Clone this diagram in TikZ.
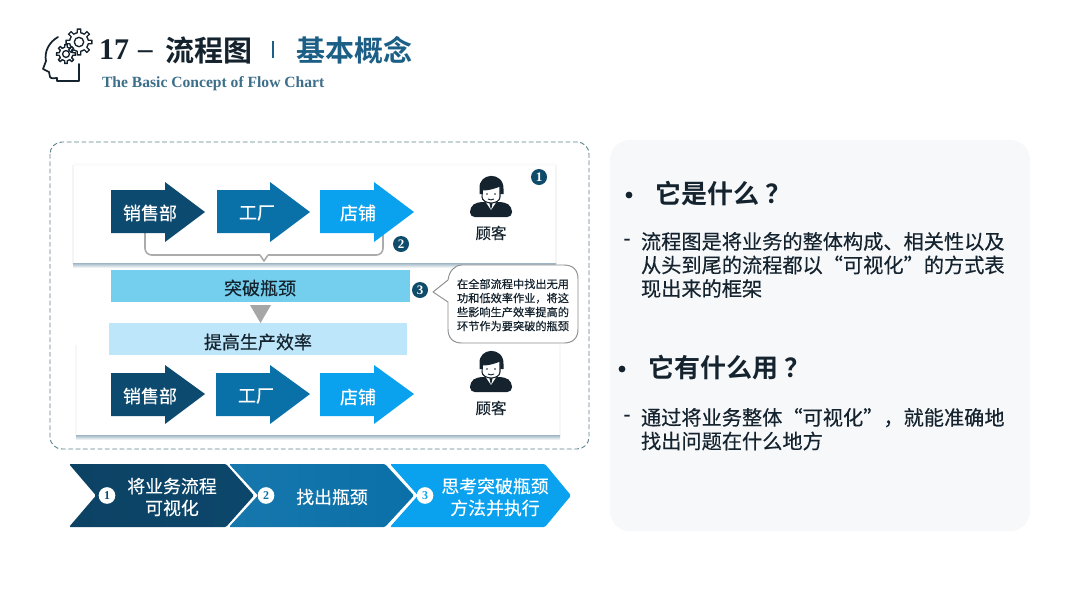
\documentclass[tikz,border=0pt]{standalone}
\usepackage{fontspec}
\setmainfont{Liberation Serif}
\newfontfamily\cjk[FakeBold=0.35]{Noto Sans CJK SC}
\newfontfamily\cjkb[BoldFont={Noto Sans CJK SC Bold}]{Noto Sans CJK SC}
\newfontfamily\lat{Liberation Serif}
\usetikzlibrary{shadings,fadings}
\definecolor{navy}{HTML}{0D4A70}
\definecolor{midb}{HTML}{0A70A8}
\definecolor{skyb}{HTML}{0AA2EE}
\definecolor{ink}{HTML}{14232E}
\definecolor{title}{HTML}{1C5F86}
\definecolor{subt}{HTML}{3D6E8A}
\definecolor{bar1}{HTML}{74CFEE}
\definecolor{bar2}{HTML}{BDE6FA}
\definecolor{badge}{HTML}{0F4C6B}
\definecolor{dashc}{HTML}{5C858C}
\definecolor{panel}{HTML}{F7F8FA}
\newcommand{\px}[1]{\fontsize{\dimexpr#1pt*3/4\relax}{\dimexpr#1pt*23/20\relax}\selectfont}
\tikzset{
  txt/.style={inner sep=0pt,outer sep=0pt,align=center},
  arrowlabel/.style={txt,text=white,font=\cjk\px{18}},
  barlabel/.style={txt,text=ink,font=\cjk\px{18}},
  custlabel/.style={txt,text=ink,font=\cjk\px{15.5}},
  headtxt/.style={txt,anchor=west,text=ink,font=\cjkb\bfseries\px{26}},
  bodytxt/.style={txt,anchor=north west,align=left,text=ink,font=\cjk\fontsize{15.15}{17.7}\selectfont},
  badgenode/.style={circle,fill=badge,text=white,minimum size=12pt,inner sep=0pt,font=\lat\bfseries\px{13}},
  whitebadge/.style={circle,fill=white,minimum size=12.5pt,inner sep=0pt,font=\lat\bfseries\px{12}},
  brace/.style={draw=black!33,line width=1.2pt,rounded corners=5pt},
  iconline/.style={draw=ink,line width=1.3pt,line join=round,line cap=round},
  person/.pic={
    \fill[ink,rounded corners=3.5pt] (-21,20) -- (-21,10) -- (-14,5) -- (14,5) -- (21,10) -- (21,20) -- cycle;
    \fill[white] (-6,4) -- (0,13) -- (6,4) -- cycle;
    \fill[ink] (-1.6,6) -- (1.6,6) -- (0,13) -- cycle;
    \fill[ink] (-11.5,-8) .. controls (-13,-25) and (13,-26) .. (12.5,-8) -- (12.5,-3) -- (-11.5,-3) -- cycle;
    \filldraw[fill=white,draw=ink,line width=.8pt] (-8.5,-7) .. controls (-2,-7) and (4,-9) .. (9,-11) -- (9,0) .. controls (9,4) and (4,6) .. (0,6) .. controls (-5,6) and (-9,3) .. (-9,0) -- cycle;
    \fill[ink] (-4,-3) circle (.9) (4,-3) circle (.9);
    \draw[ink,line width=.7pt] (-3,2) .. controls (-1,3.2) and (1,3.2) .. (3,2);
  },
  gear/.pic={
    \draw[iconline,line width=1pt] (0,0) circle (#1*0.36);
    \foreach \a in {0,45,...,315}{
      \draw[iconline,line width=1pt] (\a-22.5:#1*0.72) -- (\a-11:#1*0.72) -- (\a-8:#1) -- (\a+8:#1) -- (\a+11:#1*0.72) -- (\a+22.5:#1*0.72);
    }
  }
}
\begin{document}
\begin{tikzpicture}[x=0.75pt,y=-0.75pt]
\useasboundingbox (0,0) rectangle (1080,608);
\fill[white] (0,0) rectangle (1080,608);

% header icon
\draw[iconline] (58,37) .. controls (49,42) and (44,52) .. (46,61) -- (43,69) -- (49,72) -- (50,77) .. controls (51,79) and (55,78) .. (57,78) -- (57,81) -- (79,81) -- (79,64);
\pic at (79,42) {gear=13};
\pic at (66,54) {gear=9.5};
\node[txt,anchor=west,text=ink,font=\lat\bfseries\px{30}] (num) at (99,50) {17};
\node[txt,anchor=west,text=ink,font=\lat\bfseries\px{29}] (dashmark) at (138,55) {–};
\node[txt,anchor=west,text=ink,font=\cjkb\bfseries\px{29}] (ttl) at (165,50) {流程图};
\node[txt,anchor=west,text=title,font=\cjkb\bfseries\px{29}] (ttlb) at (296,50) {基本概念};
\coordinate (sepA) at (273,41); \coordinate (sepB) at (273,58);
\draw[title,line width=1.2pt] (sepA) -- (sepB);
\node[txt,anchor=west,text=subt,font=\lat\bfseries\px{15.6}] (sub) at (102,84) {The Basic Concept of Flow Chart};

% left frame
\draw[dashc,dash pattern=on 3.5pt off 2pt,line width=.7pt,rounded corners=9pt] (50,142) rectangle (589,449);

% top panel
\fill[black!4] (72,165) rectangle (557,264);
\fill[white] (74,166) rectangle (555,264);
\shade[top color=black!2,bottom color=white] (74,163) rectangle (555,167);
\shade[top color=subt!50,bottom color=white] (73,263) rectangle (556,268);
% bottom panel
\fill[black!3] (75,345) rectangle (561,436);
\fill[white] (77,345) rectangle (559,436);
\shade[top color=subt!50,bottom color=white] (76,435) rectangle (560,440);

% brace
\coordinate (brl) at (145,233); \coordinate (brr) at (383,233); \coordinate (brtip) at (264,261);
\draw[brace] (brl) -- (145,255) -- (260,255);
\draw[brace] (brr) -- (383,255) -- (268,255);
\draw[draw=black!33,line width=1.2pt,line join=round] (260,255) -- (brtip) -- (268,255);

% top arrows
\fill[navy] (111,190) -- (165,190) -- (165,182) -- (205,212) -- (165,242) -- (165,233) -- (111,233) -- cycle;
\fill[midb] (217,190) -- (270,190) -- (270,182) -- (310,212) -- (270,242) -- (270,233) -- (217,233) -- cycle;
\fill[skyb] (320,190) -- (374,190) -- (374,182) -- (414,212) -- (374,242) -- (374,233) -- (320,233) -- cycle;
\node[arrowlabel] (a1) at (150,213) {销售部};
\node[arrowlabel] (a2) at (257,213) {工厂};
\node[arrowlabel] (a3) at (358,213) {店铺};

% bottom arrows
\fill[navy] (111,373) -- (165,373) -- (165,365) -- (205,394) -- (165,424) -- (165,416) -- (111,416) -- cycle;
\fill[midb] (216,373) -- (270,373) -- (270,365) -- (310,394) -- (270,424) -- (270,416) -- (216,416) -- cycle;
\fill[skyb] (320,373) -- (374,373) -- (374,365) -- (414,394) -- (374,424) -- (374,416) -- (320,416) -- cycle;
\node[arrowlabel] (b1) at (150,396) {销售部};
\node[arrowlabel] (b2) at (256,396) {工厂};
\node[arrowlabel] (b3) at (358,397) {店铺};

% customers
\pic at (491,197) {person};
\node[custlabel] (c1) at (491,233) {顾客};
\pic at (491,372) {person};
\node[custlabel] (c2) at (491,408) {顾客};

% bars
\fill[bar1] (111,270) rectangle (410,302);
\node[barlabel] (bar1t) at (260,288) {突破瓶颈};
\fill[black!35] (250,305) -- (271,305) -- (260.5,323) -- cycle;
\fill[bar2] (109,323) rectangle (407,355);
\node[barlabel] (bar2t) at (258,342) {提高生产效率};

% badges
\node[badgenode] (n1) at (539,177) {1};
\node[badgenode] (n2) at (401,244) {2};
\node[badgenode] (n3) at (420,290) {3};

% callout
\draw[black!45,fill=white,line width=.7pt,line join=round] (462,265) -- (564,265) .. controls (573,265) and (578,270) .. (578,279) -- (578,329) .. controls (578,338) and (573,343) .. (564,343) -- (462,343) .. controls (453,343) and (448,338) .. (448,329) -- (448,302) -- (433,292) -- (448,280) .. controls (449,272) and (454,265) .. (462,265) -- cycle;
\node[txt,text=ink,font=\cjk\fontsize{8.4}{10.5}\selectfont] (call) at (513,305) {在全部流程中找出无用\\功和低效率作业，将这\\些影响生产效率提高的\\环节作为要突破的瓶颈};

% chevrons
\shade[left color=navy!90!black,right color=navy!95!black,rounded corners=1pt] (69,464) -- (226,464) -- (254,495.5) -- (226,527) -- (69,527) -- (96,495.5) -- cycle;
\shade[left color=midb!95!white,right color=midb,rounded corners=1pt] (229,464) -- (385,464) -- (414,495.5) -- (385,527) -- (229,527) -- (258,495.5) -- cycle;
\fill[skyb,rounded corners=1pt] (390,464) -- (545,464) -- (571,495.5) -- (545,527) -- (390,527) -- (418,495.5) -- cycle;
\node[whitebadge,text=navy] (w1) at (107,495.5) {1};
\node[whitebadge,text=midb] (w2) at (266,495.5) {2};
\node[whitebadge,text=skyb] (w3) at (425,495.5) {3};
\node[txt,text=white,font=\cjk\fontsize{13.4}{16.4}\selectfont] (s1) at (172,497) {将业务流程\\可视化};
\node[txt,text=white,font=\cjk\fontsize{13.4}{16.4}\selectfont] (s2) at (332,497) {找出瓶颈};
\node[txt,text=white,font=\cjk\fontsize{13.4}{16.4}\selectfont] (s3) at (495,497) {思考突破瓶颈\\方法并执行};

% right panel
\fill[panel,rounded corners=15pt] (610,140) rectangle (1030,531);
\fill[ink] (629,195) circle (3.4);
\node[headtxt] (q1) at (655,194) {它是什么\hspace{5pt}？};
\node[txt,text=ink,font=\cjk\px{20}] (d1) at (627,242) {-};
\node[bodytxt] (a1t) at (641,232) {流程图是将业务的整体构成、相关性以及\\从头到尾的流程都以“可视化”的方式表\\现出来的框架};
\fill[ink] (622,369) circle (3.4);
\node[headtxt] (q2) at (648,368) {它有什么用\hspace{5pt}？};
\node[txt,text=ink,font=\cjk\px{20}] (d2) at (627,418) {-};
\node[bodytxt] (a2t) at (641,408) {通过将业务整体“可视化”，就能准确地\\找出问题在什么地方};
\end{tikzpicture}
\end{document}
